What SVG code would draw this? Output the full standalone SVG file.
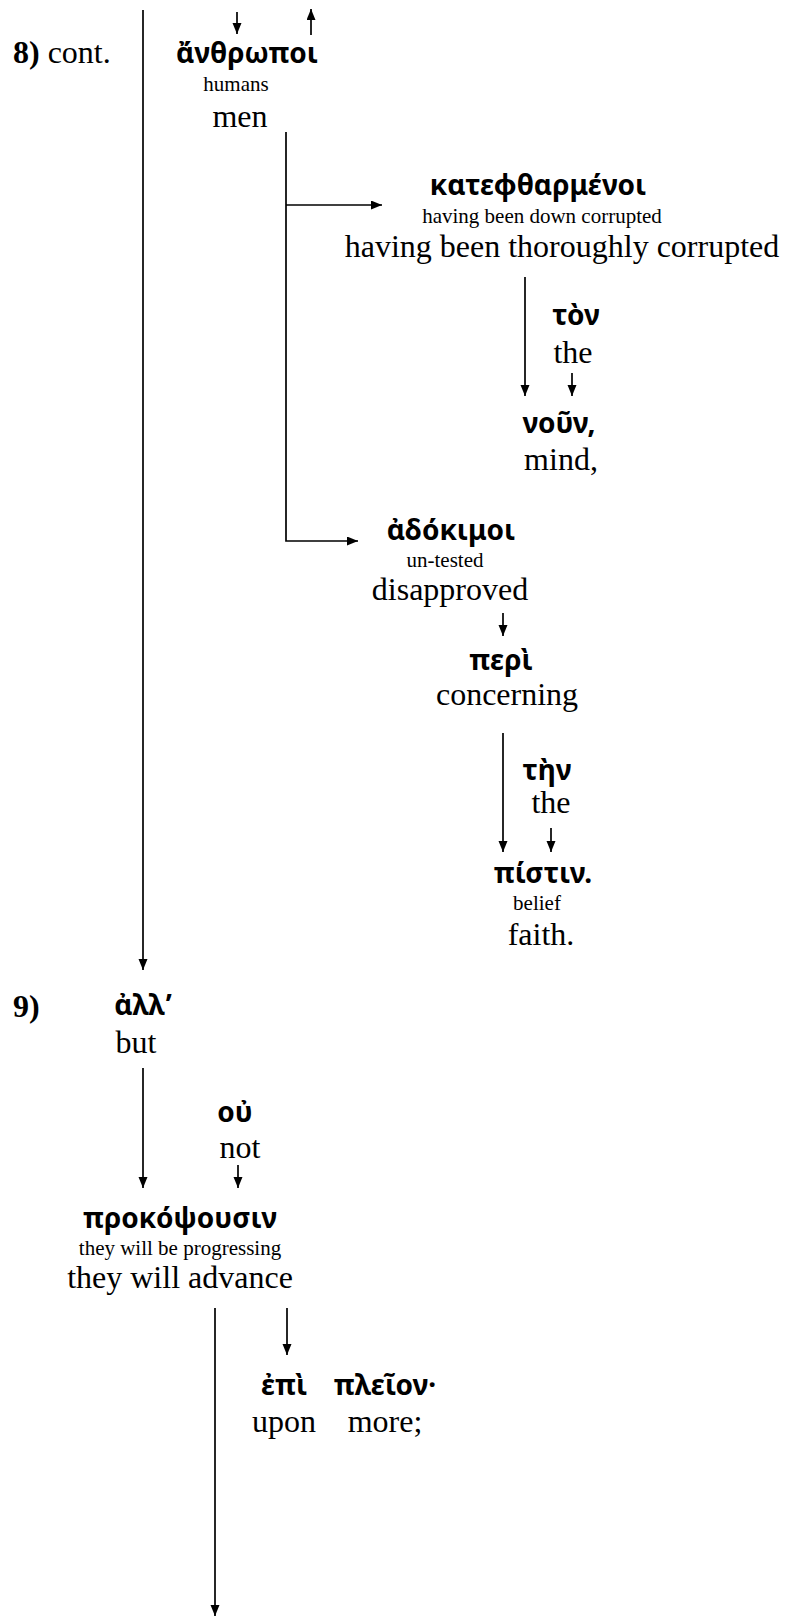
<svg xmlns="http://www.w3.org/2000/svg" width="786" height="1616" viewBox="0 0 786 1616">
<defs>
<marker id="ah" markerUnits="userSpaceOnUse" markerWidth="12" markerHeight="10" refX="11" refY="4.5" orient="auto">
<path d="M0,0 L11,4.5 L0,9 Z" fill="#000"/>
</marker>
<style>
.g{font-family:"Noto Sans","DejaVu Sans",sans-serif;font-weight:bold;font-size:28px;fill:#000;text-anchor:middle}
.e{font-family:"Liberation Serif","Times New Roman",serif;font-size:32px;fill:#000;text-anchor:middle}
.s{font-family:"Liberation Serif","Times New Roman",serif;font-size:21px;fill:#000;text-anchor:middle}
.n{font-family:"Liberation Serif","Times New Roman",serif;font-size:32px;fill:#000}
.c line,.c polyline{stroke:#000;stroke-width:1.7;fill:none}
.a{marker-end:url(#ah)}
</style>
</defs>
<rect width="786" height="1616" fill="#fff"/>
<g class="c" id="connectors">
<line class="a" x1="143" y1="10" x2="143" y2="970"/>
<line class="a" x1="237" y1="12" x2="237" y2="34"/>
<line class="a" x1="311" y1="35" x2="311" y2="9"/>
<polyline points="286,132 286,541 358,541" class="a"/>
<line class="a" x1="286" y1="205" x2="382" y2="205"/>
<line class="a" x1="525" y1="277" x2="525" y2="396"/>
<line class="a" x1="572" y1="373" x2="572" y2="396"/>
<line class="a" x1="503" y1="613" x2="503" y2="636"/>
<line class="a" x1="503" y1="733" x2="503" y2="852"/>
<line class="a" x1="551" y1="828" x2="551" y2="852"/>
<line class="a" x1="143" y1="1068" x2="143" y2="1188"/>
<line class="a" x1="238" y1="1165" x2="238" y2="1188"/>
<line class="a" x1="215" y1="1308" x2="215" y2="1616"/>
<line class="a" x1="287" y1="1308" x2="287" y2="1355"/>
</g>
<g id="label8"><text class="n" x="13" y="63"><tspan font-weight="bold">8)</tspan> cont.</text></g>
<g id="anthropoi"><text class="g" x="247" y="63">ἄνθρωποι</text><text class="s" x="236" y="91">humans</text><text class="e" x="240" y="127">men</text></g>
<g id="katephtharmenoi"><text class="g" x="538" y="195">κατεφθαρμένοι</text><text class="s" x="542" y="223">having been down corrupted</text><text class="e" x="562" y="257">having been thoroughly corrupted</text></g>
<g id="ton"><text class="g" x="576" y="325">τὸν</text><text class="e" x="573" y="363">the</text></g>
<g id="noun"><text class="g" x="559" y="433">νοῦν,</text><text class="e" x="561" y="470">mind,</text></g>
<g id="adokimoi"><text class="g" x="451" y="540">ἀδόκιμοι</text><text class="s" x="445" y="567">un-tested</text><text class="e" x="450" y="600">disapproved</text></g>
<g id="peri"><text class="g" x="501" y="670">περὶ</text><text class="e" x="507" y="705">concerning</text></g>
<g id="ten"><text class="g" x="547" y="780">τὴν</text><text class="e" x="551" y="813">the</text></g>
<g id="pistin"><text class="g" x="543" y="883">πίστιν.</text><text class="s" x="537" y="910">belief</text><text class="e" x="541" y="945">faith.</text></g>
<g id="label9"><text class="n" x="13" y="1017" font-weight="bold">9)</text></g>
<g id="all"><text class="g" x="143" y="1015">ἀλλ’</text><text class="e" x="136" y="1053">but</text></g>
<g id="ou"><text class="g" x="235" y="1122">οὐ</text><text class="e" x="240" y="1158">not</text></g>
<g id="prokopsousin"><text class="g" x="180" y="1228">προκόψουσιν</text><text class="s" x="180" y="1255">they will be progressing</text><text class="e" x="180" y="1288">they will advance</text></g>
<g id="epi"><text class="g" x="284" y="1395">ἐπὶ</text><text class="e" x="284" y="1432">upon</text></g>
<g id="pleion"><text class="g" x="385" y="1395">πλεῖον·</text><text class="e" x="385" y="1432">more;</text></g>
</svg>
